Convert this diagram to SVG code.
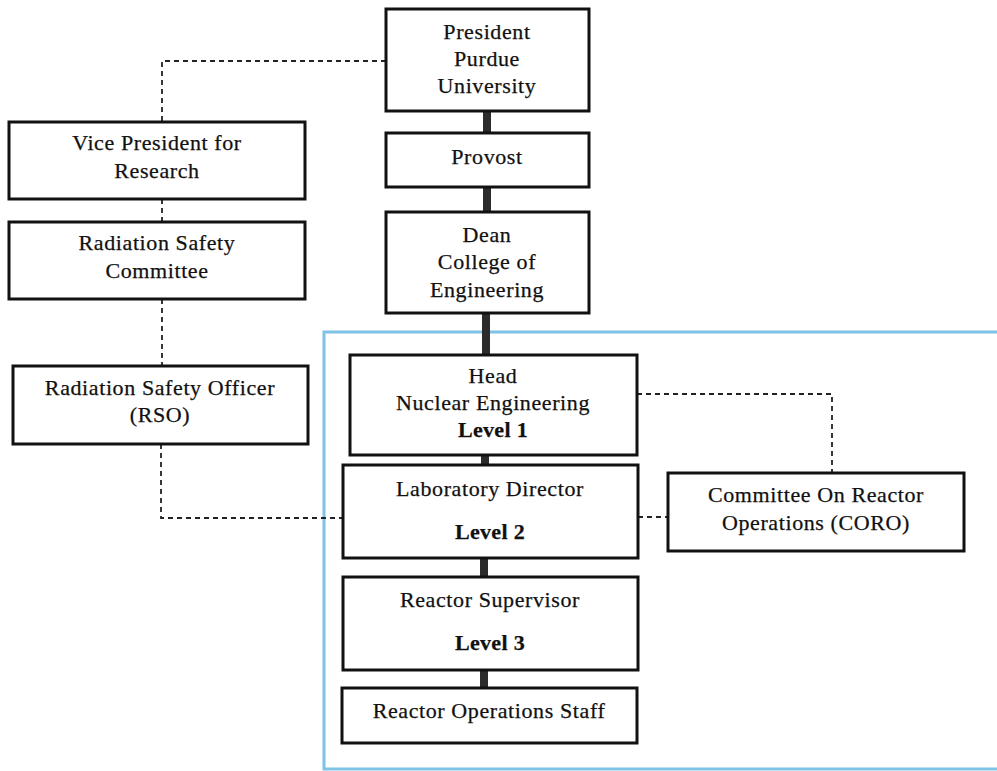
<svg xmlns="http://www.w3.org/2000/svg" width="997" height="771" viewBox="0 0 997 771">
<style>
.box{fill:#fff;stroke:#111;stroke-width:3}
.t{font-family:"Liberation Serif","Times New Roman",serif;font-size:22px;letter-spacing:0.6px;fill:#111;stroke:#111;stroke-width:0.25;text-anchor:middle}
.b{font-weight:bold;letter-spacing:0.3px}
.solid{stroke:#2b2b2b;stroke-width:8;fill:none}
.dash{stroke:#222;stroke-width:1.8;fill:none;stroke-dasharray:5 4}
</style>
<rect width="997" height="771" fill="#fff"/>
<g id="scope">
<path d="M1000 332 H324 V769 H1000" fill="none" stroke="#7dc3e6" stroke-width="3"/>
</g>
<g id="connectors">
<line class="solid" x1="487" y1="110" x2="487" y2="134"/>
<line class="solid" x1="487" y1="186" x2="487" y2="213"/>
<line class="solid" x1="486" y1="312" x2="486" y2="356"/>
<line class="solid" x1="485" y1="454" x2="485" y2="466"/>
<line class="solid" x1="484" y1="557" x2="484" y2="578"/>
<line class="solid" x1="484" y1="669" x2="484" y2="689"/>
<path class="dash" d="M386 61 H162 V122"/>
<path class="dash" d="M162 199 V222"/>
<path class="dash" d="M162 299 V366"/>
<path class="dash" d="M161 444 V518 H343"/>
<path class="dash" d="M637 394 H832 V473"/>
<path class="dash" d="M638 517 H668"/>
</g>
<g id="president">
<rect class="box" x="386" y="9" width="203" height="102"/>
<text class="t" x="487" y="39">President</text>
<text class="t" x="487" y="66">Purdue</text>
<text class="t" x="487" y="93">University</text>
</g>
<g id="vp-research">
<rect class="box" x="9" y="122" width="296" height="77"/>
<text class="t" x="157" y="150">Vice President for</text>
<text class="t" x="157" y="178">Research</text>
</g>
<g id="rsc">
<rect class="box" x="9" y="222" width="296" height="77"/>
<text class="t" x="157" y="250">Radiation Safety</text>
<text class="t" x="157" y="278">Committee</text>
</g>
<g id="provost">
<rect class="box" x="386" y="133" width="203" height="54"/>
<text class="t" x="487" y="164">Provost</text>
</g>
<g id="dean">
<rect class="box" x="386" y="212" width="203" height="101"/>
<text class="t" x="487" y="242">Dean</text>
<text class="t" x="487" y="269">College of</text>
<text class="t" x="487" y="297">Engineering</text>
</g>
<g id="rso">
<rect class="box" x="13" y="366" width="295" height="78"/>
<text class="t" x="160" y="395">Radiation Safety Officer</text>
<text class="t" x="160" y="422">(RSO)</text>
</g>
<g id="head">
<rect class="box" x="350" y="355" width="287" height="100"/>
<text class="t" x="493" y="383">Head</text>
<text class="t" x="493" y="410">Nuclear Engineering</text>
<text class="t b" x="493" y="437">Level 1</text>
</g>
<g id="lab-director">
<rect class="box" x="343" y="465" width="295" height="93"/>
<text class="t" x="490" y="496">Laboratory Director</text>
<text class="t b" x="490" y="539">Level 2</text>
</g>
<g id="coro">
<rect class="box" x="668" y="473" width="296" height="78"/>
<text class="t" x="816" y="502">Committee On Reactor</text>
<text class="t" x="816" y="530">Operations (CORO)</text>
</g>
<g id="reactor-supervisor">
<rect class="box" x="343" y="577" width="295" height="93"/>
<text class="t" x="490" y="607">Reactor Supervisor</text>
<text class="t b" x="490" y="650">Level 3</text>
</g>
<g id="reactor-staff">
<rect class="box" x="342" y="688" width="295" height="55"/>
<text class="t" x="489" y="718">Reactor Operations Staff</text>
</g>
</svg>
